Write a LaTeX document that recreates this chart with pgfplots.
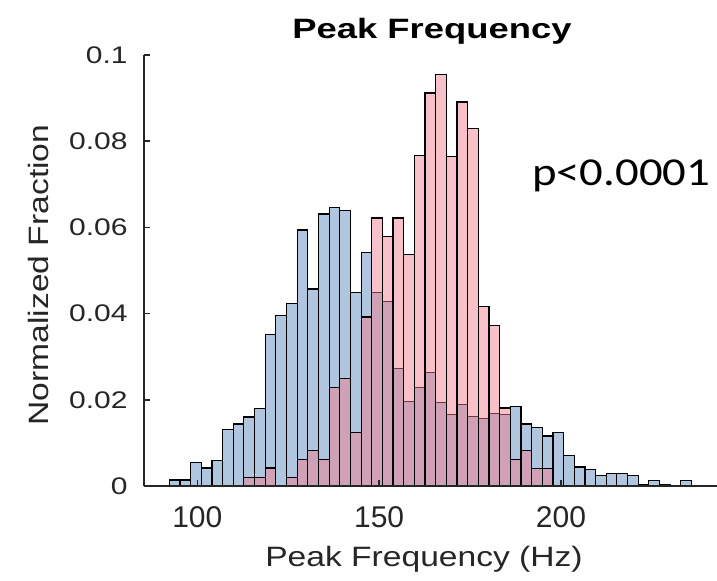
\documentclass[border=0pt]{standalone}
\usepackage{fontspec}
\usepackage{pgfplots}
\pgfplotsset{compat=1.18}
\setmainfont{Liberation Sans}
\newfontfamily\ytickfont[FakeStretch=1.25]{Liberation Sans}
\newfontfamily\labfont[FakeStretch=1.2]{Liberation Sans}
\newfontfamily\titfont[FakeStretch=1.3]{Liberation Sans}
\newfontfamily\pfont[FakeStretch=1.18]{Carlito}
\definecolor{hblue}{RGB}{176,197,222}
\definecolor{hred}{RGB}{240,121,138}

\begin{document}
\begin{tikzpicture}
\begin{axis}[
    at={(0,0)}, anchor=south west,
    scale only axis, width=286.5pt, height=215.5pt,
    xmin=85.345, xmax=242.89, ymin=0, ymax=0.1,
    axis x line*=bottom, axis y line*=left,
    axis line style={-, line width=1pt, color=black!85},
    tick align=inside, major tick length=3pt,
    tick style={line width=0.8pt, color=black!85},
    xtick={100,150,200}, xticklabels={100,150,200},
    ytick={0,0.02,0.04,0.06,0.08,0.1},
    yticklabels={0,0.02,0.04,0.06,0.08,0.1},
    xticklabel style={font=\fontsize{15}{18}\selectfont, text=black!85,
        anchor=north, inner sep=0pt, yshift=-10pt},
    yticklabel style={font=\ytickfont\fontsize{12}{14}\selectfont, text=black!85,
        anchor=east, inner sep=0pt, xshift=-8pt},
    title={Peak Frequency},
    every axis title shift=0pt,
    title style={font=\titfont\bfseries\fontsize{14}{16}\selectfont,
        at={(axis description cs:0.5026,1.0387)}, anchor=base,
        yshift=0pt, inner sep=0pt},
    xlabel={Peak Frequency (Hz)},
    xlabel style={font=\labfont\fontsize{14}{16}\selectfont, text=black!85,
        at={(axis description cs:0.4887,-0.1872)}, anchor=base, inner sep=0pt},
    ylabel={Normalized Fraction},
    ylabel style={font=\labfont\fontsize{14}{16}\selectfont, text=black!85,
        at={(axis description cs:-0.185,0.4896)}, anchor=center, inner sep=0pt},
    axis on top, clip=false,
]
% blue histogram (bin edges, normalized counts)
\addplot[ybar interval, fill=hblue, draw=black, line width=0.6pt]
    coordinates {
    (92.30,0.0014)(95.23,0.0014)(98.16,0.0054)(101.09,0.0042)(104.02,0.0059)
    (106.95,0.0132)(109.88,0.0144)(112.81,0.0160)(115.74,0.0180)(118.67,0.0352)
    (121.60,0.0395)(124.53,0.0424)(127.46,0.0594)(130.39,0.0457)(133.32,0.0631)
    (136.25,0.0647)(139.18,0.0640)(142.11,0.0449)(145.04,0.0542)(147.97,0.0449)
    (150.90,0.0429)(153.83,0.0273)(156.76,0.0197)(159.69,0.0229)(162.62,0.0263)
    (165.55,0.0193)(168.48,0.0165)(171.41,0.0189)(174.34,0.0161)(177.27,0.0157)
    (180.20,0.0168)(183.13,0.0165)(186.06,0.0185)(188.99,0.0144)(191.92,0.0136)
    (194.85,0.0116)(197.78,0.0124)(200.71,0.0071)(203.64,0.0044)(206.57,0.0039)
    (209.50,0.0025)(212.43,0.0029)(215.36,0.0029)(218.29,0.0025)(221.22,0.0003)
    (224.15,0.0013)(227.08,0.0003)(230.01,0)(232.94,0.0013)(235.87,0)
    };
% red histogram, semi-transparent on top
\addplot[ybar interval, fill=hred, fill opacity=0.47, draw=black, line width=0.6pt]
    coordinates {
    (112.81,0.0019)(115.74,0.0019)(118.67,0.0042)(121.60,0)(124.53,0.0019)
    (127.46,0.0062)(130.39,0.0083)(133.32,0.0062)(136.25,0.0229)(139.18,0.0250)
    (142.11,0.0124)(145.04,0.0392)(147.97,0.0622)(150.90,0.0579)(153.83,0.0622)
    (156.76,0.0538)(159.69,0.0767)(162.62,0.0912)(165.55,0.0954)(168.48,0.0765)
    (171.41,0.0891)(174.34,0.0830)(177.27,0.0416)(180.20,0.0372)(183.13,0.0181)
    (186.06,0.0062)(188.99,0.0083)(191.92,0.0041)(194.85,0.0041)(197.78,0)
    };
\end{axis}
\node[anchor=base west, inner sep=0pt, font=\pfont\fontsize{19.8}{22}\selectfont]
    at (193.85pt,150.5pt) {p<0.0001};
\pgfresetboundingbox
\useasboundingbox (-72pt,-47pt) rectangle (286.5pt,243pt);
\end{tikzpicture}
\end{document}
